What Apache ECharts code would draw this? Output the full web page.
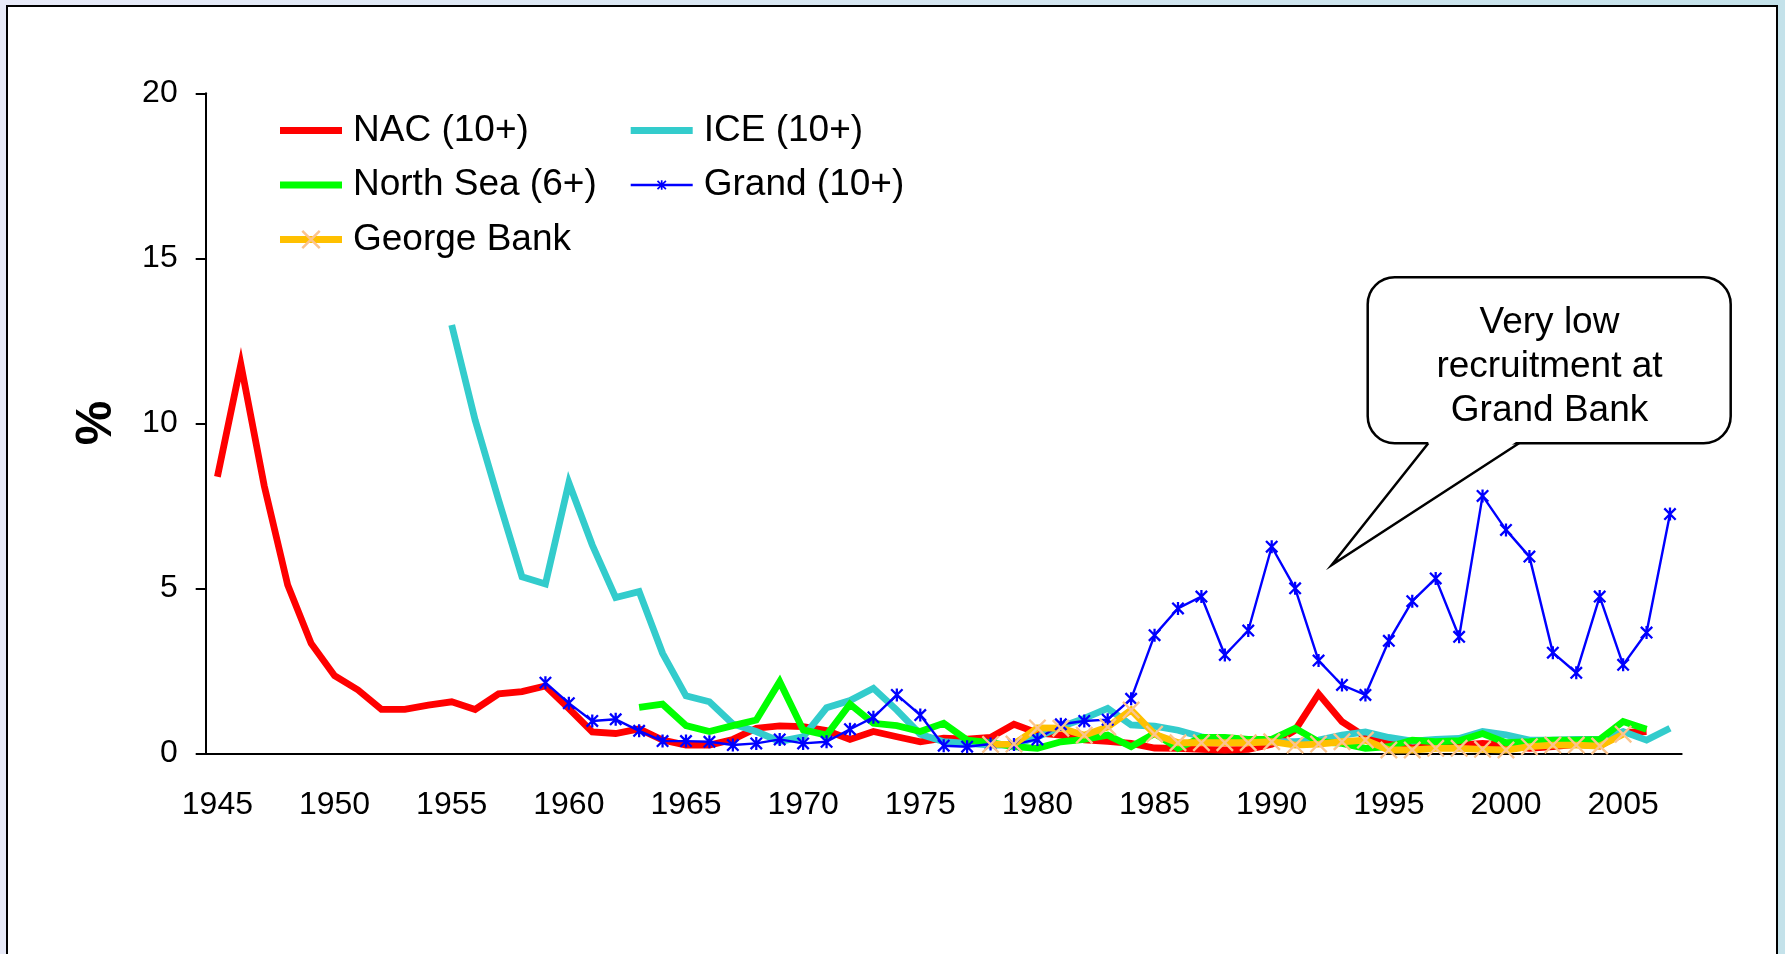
<!DOCTYPE html>
<html>
<head>
<meta charset="utf-8">
<script src="https://cdn.jsdelivr.net/npm/echarts@6/dist/echarts.min.js"></script>
<style>
  html, body { margin: 0; padding: 0; width: 1785px; height: 954px; overflow: hidden;
    background: linear-gradient(to right, #e8eaf8, #c4e2ea); }
  #frame { position: absolute; left: 6px; top: 5px; width: 1768px; height: 990px;
    background: #fff; border: 2px solid #000; }
  #chart { position: absolute; left: 0; top: 0; width: 1785px; height: 954px; }
</style>
</head>
<body>
<div id="frame"></div>
<div id="chart"></div>
<script>
// categories
const years = ['1945', '1946', '1947', '1948', '1949', '1950', '1951', '1952', '1953', '1954',
  '1955', '1956', '1957', '1958', '1959', '1960', '1961', '1962', '1963', '1964',
  '1965', '1966', '1967', '1968', '1969', '1970', '1971', '1972', '1973', '1974',
  '1975', '1976', '1977', '1978', '1979', '1980', '1981', '1982', '1983', '1984',
  '1985', '1986', '1987', '1988', '1989', '1990', '1991', '1992', '1993', '1994',
  '1995', '1996', '1997', '1998', '1999', '2000', '2001', '2002', '2003', '2004',
  '2005', '2006', '2007']

// each series starts at its first year, then one value per year
const nacStart = '1945'
const nacValues = [8.38, 11.79, 8.1, 5.1, 3.33, 2.35, 1.92, 1.33, 1.33, 1.46,
  1.56, 1.33, 1.8, 1.87, 2.04, 1.36, 0.65, 0.6, 0.74, 0.4,
  0.25, 0.25, 0.42, 0.76, 0.83, 0.81, 0.69, 0.42, 0.66, 0.5,
  0.35, 0.46, 0.43, 0.48, 0.88, 0.62, 0.55, 0.41, 0.36, 0.3,
  0.16, 0.15, 0.12, 0.1, 0.12, 0.27, 0.7, 1.8, 0.96, 0.5,
  0.3, 0.17, 0.2, 0.25, 0.3, 0.25, 0.15, 0.2, 0.27, 0.22,
  0.63, 0.66]

const iceStart = '1955'
const iceValues = [12.98, 10.1, 7.68, 5.35, 5.13, 8.2, 6.31, 4.72, 4.9, 3.03,
  1.74, 1.56, 0.89, 0.66, 0.36, 0.5, 1.38, 1.6, 1.97, 1.31,
  0.58, 0.35, 0.3, 0.25, 0.25, 0.5, 0.8, 1.06, 1.36, 0.86,
  0.82, 0.7, 0.5, 0.38, 0.36, 0.35, 0.35, 0.4, 0.55, 0.65,
  0.48, 0.37, 0.42, 0.45, 0.66, 0.56, 0.4, 0.4, 0.42, 0.42,
  0.66, 0.4, 0.76]

const northSeaStart = '1963'
const northSeaValues = [1.39, 1.49,
  0.84, 0.66, 0.84, 1.01, 2.17, 0.71, 0.55, 1.49, 0.91, 0.84,
  0.66, 0.91, 0.4, 0.32, 0.2, 0.15, 0.35, 0.42, 0.55, 0.2,
  0.6, 0.15, 0.48, 0.48, 0.42, 0.42, 0.76, 0.35, 0.3, 0.15,
  0.2, 0.4, 0.35, 0.38, 0.6, 0.32, 0.35, 0.4, 0.4, 0.42,
  0.96, 0.73]

const grandStart = '1959'
const grandValues = [2.14, 1.52, 0.98, 1.03, 0.68, 0.37,
  0.37, 0.35, 0.25, 0.3, 0.42, 0.3, 0.35, 0.73, 1.09, 1.77,
  1.16, 0.23, 0.2, 0.28, 0.27, 0.42, 0.88, 0.98, 1.02, 1.65,
  3.58, 4.39, 4.75, 2.98, 3.72, 6.26, 5.0, 2.81, 2.07, 1.77,
  3.41, 4.61, 5.3, 3.53, 7.8, 6.77, 5.96, 3.05, 2.44, 4.75,
  2.68, 3.66, 7.25]

const georgeStart = '1978'
const georgeValues = [0.27, 0.28, 0.77, 0.76, 0.55, 0.8, 1.31,
  0.58, 0.32, 0.32, 0.32, 0.32, 0.35, 0.25, 0.28, 0.35, 0.4,
  0.1, 0.1, 0.15, 0.15, 0.12, 0.1, 0.2, 0.25, 0.25, 0.22,
  0.58]

const yTicks = [0, 5, 10, 15, 20]

const font = 'Liberation Sans'
// asterisk and cross markers, filled bars so they read as strokes
const asterisk = 'path://M-1.4,-8L1.4,-8L1.4,8L-1.4,8Z M-6,-8L8,6L6,8L-8,-6Z M-6,8L-8,6L6,-8L8,-6Z'
const cross = 'path://M-8.08,-9.92L9.92,8.08L8.08,9.92L-9.92,-8.08Z M-8.08,9.92L-9.92,8.08L8.08,-9.92L9.92,-8.08Z'
const bar = 'path://M0,0L62,0L62,7L0,7Z'

const align = (start, values) => {
  const first = years.indexOf(start)
  return values.map((v, i) => [years[first + i], v])
}

const thick = (name, color, start, values) => ({
  name,
  type: 'line',
  data: align(start, values),
  symbol: 'none',
  lineStyle: { color, width: 6.8, join: 'miter' },
  itemStyle: { color },
  emphasis: { disabled: true }
})

const chart = echarts.init(document.getElementById('chart'))

const legendText = { fontFamily: font, fontSize: 37, color: '#000', lineHeight: 40, padding: [0, 0, 0, 6] }

chart.setOption({
  animation: false,
  grid: { left: 205.7, right: 103.3, top: 93.3, bottom: 200.7 },
  legend: [
    {
      left: 276.6, top: 110.5, orient: 'vertical', padding: 0,
      itemWidth: 62, itemHeight: 24, itemGap: 14.5,
      selectedMode: false,
      lineStyle: { width: 'inherit' },
      textStyle: legendText,
      data: [
        { name: 'NAC (10+)', icon: bar },
        { name: 'North Sea (6+)', icon: bar },
        { name: 'George Bank' }
      ]
    },
    {
      left: 629.5, top: 110.5, orient: 'vertical', padding: 0,
      itemWidth: 62, itemHeight: 12, itemGap: 14.5,
      selectedMode: false,
      lineStyle: { width: 'inherit' },
      textStyle: legendText,
      data: [
        { name: 'ICE (10+)', icon: bar },
        { name: 'Grand (10+)' }
      ]
    }
  ],
  xAxis: {
    type: 'category',
    data: years,
    boundaryGap: true,
    axisLine: { lineStyle: { color: '#000', width: 2 } },
    axisTick: { interval: 4, length: 10, lineStyle: { color: '#000', width: 2 } },
    axisLabel: { interval: 4, fontFamily: font, fontSize: 32, color: '#000', margin: 36 },
    splitLine: { show: false }
  },
  yAxis: {
    type: 'value',
    min: yTicks[0],
    max: yTicks[yTicks.length - 1],
    interval: yTicks[1] - yTicks[0],
    axisLine: { show: true, lineStyle: { color: '#000', width: 2 } },
    axisTick: { show: true, length: 10, lineStyle: { color: '#000', width: 2 } },
    axisLabel: { fontFamily: font, fontSize: 32, color: '#000', margin: 28 },
    splitLine: { show: false }
  },
  series: [
    thick('NAC (10+)', '#ff0000', nacStart, nacValues),
    thick('ICE (10+)', '#33cccc', iceStart, iceValues),
    thick('North Sea (6+)', '#00ff00', northSeaStart, northSeaValues),
    {
      name: 'Grand (10+)',
      type: 'line',
      data: align(grandStart, grandValues),
      symbol: asterisk,
      symbolSize: 13,
      showAllSymbol: true,
      lineStyle: { color: '#0000ff', width: 2.4 },
      itemStyle: { color: '#0000ff' },
      emphasis: { disabled: true }
    },
    {
      name: 'George Bank',
      type: 'line',
      data: align(georgeStart, georgeValues),
      symbol: cross,
      symbolSize: 18,
      showAllSymbol: true,
      lineStyle: { color: '#ffc000', width: 6.8, join: 'miter' },
      itemStyle: { color: '#fbc48e' },
      emphasis: { disabled: true }
    }
  ],
  graphic: [
    {
      type: 'text', x: 97, y: 423, rotation: Math.PI / 2,
      style: { text: '%', fontFamily: font, fontSize: 50, fontWeight: 'bold', fill: '#000',
        textAlign: 'center', textVerticalAlign: 'middle' }
    },
    // speech balloon: rounded box, a white patch over its border, then the pointer outline
    {
      type: 'rect', z: 100,
      shape: { x: 1367.7, y: 277.3, width: 363, height: 166, r: 27 },
      style: { fill: '#fff', stroke: '#000', lineWidth: 2.5 }
    },
    {
      type: 'polygon', z: 101,
      shape: { points: [[1429.5, 441], [1331.7, 565], [1517.5, 441]] },
      style: { fill: '#fff' }
    },
    {
      type: 'polyline', z: 102,
      shape: { points: [[1428.3, 443.3], [1331.7, 565], [1519, 443.3]] },
      style: { stroke: '#000', lineWidth: 2.5, fill: null }
    },
    {
      type: 'text', z: 103, x: 1549.5, y: 366.5,
      style: { text: 'Very low\nrecruitment at\nGrand Bank', fontFamily: font, fontSize: 37,
        lineHeight: 44, fill: '#000', textAlign: 'center', textVerticalAlign: 'middle' }
    }
  ]
})
</script>
</body>
</html>
